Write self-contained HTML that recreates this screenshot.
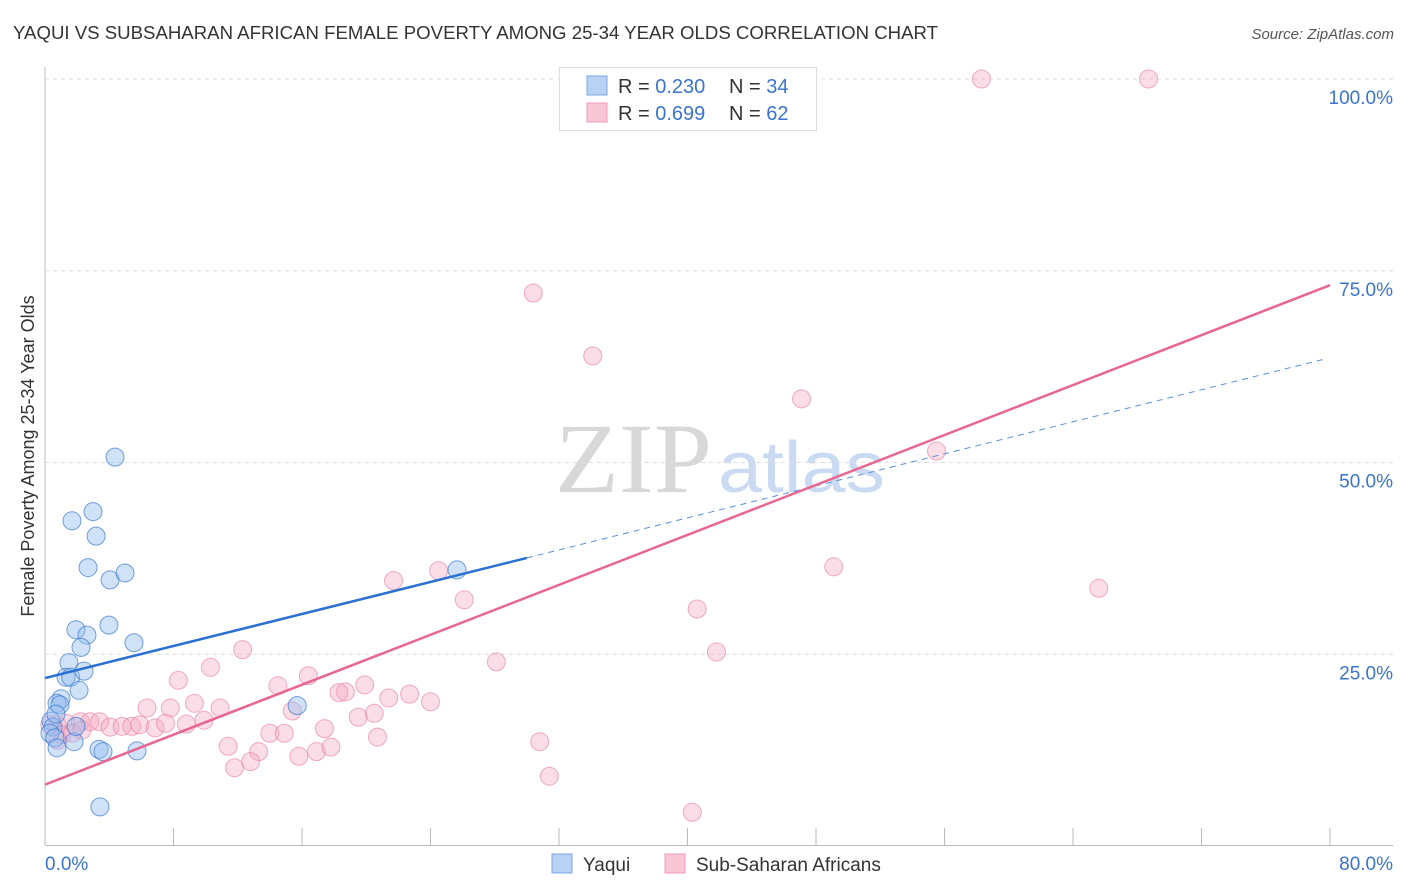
<!DOCTYPE html>
<html><head><meta charset="utf-8"><style>
body{margin:0;background:#fff;font-family:"Liberation Sans",sans-serif;}
#wrap{position:relative;width:1406px;height:892px;overflow:hidden;}
svg text{font-family:"Liberation Sans",sans-serif;}
</style></head><body>
<div id="wrap">
<svg id="chart" width="1406" height="892">
<text x="13" y="39" font-size="18" fill="#333" textLength="925" lengthAdjust="spacingAndGlyphs">YAQUI VS SUBSAHARAN AFRICAN FEMALE POVERTY AMONG 25-34 YEAR OLDS CORRELATION CHART</text>
<text x="1394" y="39" font-size="15" fill="#555" text-anchor="end" font-style="italic">Source: ZipAtlas.com</text>
<text x="555" y="492" font-size="100" fill="#d8d8d8" textLength="157" lengthAdjust="spacingAndGlyphs" style="font-family:'Liberation Serif',serif">ZIP</text>
<text x="718" y="492" font-size="72" fill="#c9daf2" textLength="167" lengthAdjust="spacingAndGlyphs">atlas</text>
<text transform="translate(34,456) rotate(-90)" font-size="18" fill="#333" text-anchor="middle">Female Poverty Among 25-34 Year Olds</text>
<g id="grid"></g><g id="marks"></g>
<g>
<rect x="559.5" y="67.5" width="257" height="63" fill="#fff" stroke="#ddd"/>
<rect x="587" y="76" width="20" height="19" fill="#b8d2f4" stroke="#7aa7e6"/>
<rect x="587" y="103" width="20" height="19" fill="#f9c6d6" stroke="#ee9ab6"/>
<text x="618" y="93" font-size="20" fill="#333">R = <tspan fill="#3a74d0">0.230</tspan></text>
<text x="729" y="93" font-size="20" fill="#333">N = <tspan fill="#3a74d0">34</tspan></text>
<text x="618" y="120" font-size="20" fill="#333">R = <tspan fill="#3a74d0">0.699</tspan></text>
<text x="729" y="120" font-size="20" fill="#333">N = <tspan fill="#3a74d0">62</tspan></text>
</g>
<g>
<rect x="552" y="854" width="20" height="19" fill="#b8d2f4" stroke="#7aa7e6"/>
<text x="583" y="871" font-size="19" fill="#333">Yaqui</text>
<rect x="665" y="854" width="20" height="19" fill="#f9c6d6" stroke="#ee9ab6"/>
<text x="696" y="871" font-size="19" fill="#333">Sub-Saharan Africans</text>
</g>
</svg>
</div>
<script>
const yTicks=[25,50,75,100];
const yTickLabels=["25.0%","50.0%","75.0%","100.0%"];
const xTickCount=10;
const yaquiX=[4.36,1.68,2.99,3.18,2.68,4.05,4.98,1.93,2.61,3.98,5.54,2.24,1.49,1.31,1.6,2.43,2.12,1.0,0.75,0.93,0.37,0.5,0.31,0.62,0.75,1.81,1.93,3.36,3.61,5.73,3.42,15.7,25.65,0.68];
const yaquiY=[50.7,42.4,43.6,40.4,36.3,34.7,35.6,28.2,27.5,28.8,26.5,25.9,23.9,22.0,22.0,22.8,20.3,19.2,18.6,18.4,16.3,15.5,14.7,14.1,12.8,13.6,15.6,12.6,12.3,12.4,5.1,18.3,36.0,17.2];
const ssaX=[58.3,68.7,30.4,34.1,47.1,55.5,49.1,65.6,24.5,21.7,26.1,40.6,41.8,28.1,12.3,10.3,16.4,8.3,14.5,9.3,6.35,7.8,10.9,9.9,15.4,18.7,19.9,18.3,21.4,22.7,24.0,19.5,20.5,14.0,14.9,17.4,20.7,11.4,13.3,12.8,11.8,15.8,16.9,17.8,30.8,31.4,40.3,0.75,1.3,2.2,2.8,3.4,4.05,4.8,5.4,5.9,6.85,7.5,8.8,1.06,1.7,2.3,0.3,0.8];
const ssaY=[100,100,72.1,63.9,58.3,51.5,36.4,33.6,35.9,34.6,32.1,30.9,25.3,24.0,25.6,23.3,22.2,21.6,20.9,18.6,18.0,18.0,18.0,16.4,17.6,20.1,21.0,20.0,19.3,19.8,18.8,16.8,17.3,14.7,14.7,15.3,14.2,13.0,12.3,11.0,10.2,11.7,12.3,12.9,13.6,9.1,4.4,15.8,16.0,16.2,16.2,16.2,15.5,15.6,15.6,15.8,15.4,16.0,15.9,14.5,14.7,15.1,15.8,13.8];
const yaquiLine=[21.9,0.522];
const ssaLine=[8.0,0.814];

const NS="http://www.w3.org/2000/svg";
const X=v=>45+v/80*1285;
const Y=v=>846-v/100*767;
function mk(tag,attrs,parent){const e=document.createElementNS(NS,tag);for(const k in attrs)e.setAttribute(k,attrs[k]);parent.appendChild(e);return e;}
const grid=document.getElementById('grid'),marks=document.getElementById('marks');
mk('line',{x1:45,y1:67,x2:45,y2:845,stroke:'#bbb'},grid);
mk('line',{x1:45,y1:845.5,x2:1393,y2:845.5,stroke:'#bbb'},grid);
yTicks.forEach((t,i)=>{
  const l=mk('line',{x1:45,x2:1393,y1:Y(t),y2:Y(t),stroke:'#ddd','stroke-dasharray':'4,4'},grid);
  
  
  const tx=mk('text',{x:1393,y:Y(t)+25,'font-size':19,fill:'#3a74d0','text-anchor':'end'},grid);
  tx.textContent=yTickLabels[i];
  
  
});
for(let i=0;i<=xTickCount;i++){
  const x=X(i*8);
  const l=mk('line',{x1:x,x2:x,y1:828,y2:845,stroke:'#bbb'},grid);
  
  
}
const xl0=mk('text',{x:45,y:870,'font-size':19,fill:'#3a74d0'},grid);xl0.textContent='0.0%';


const xl1=mk('text',{x:1393,y:870,'font-size':19,fill:'#3a74d0','text-anchor':'end'},grid);xl1.textContent='80.0%';



ssaX.forEach((v,i)=>{
  const c=mk('circle',{cx:X(v),cy:Y(ssaY[i]),r:9,fill:'rgba(246,170,196,0.4)',stroke:'rgba(232,120,158,0.6)','stroke-width':1},marks);
  
  
});
yaquiX.forEach((v,i)=>{
  const c=mk('circle',{cx:X(v),cy:Y(yaquiY[i]),r:9,fill:'rgba(150,190,240,0.45)',stroke:'rgba(60,120,210,0.7)','stroke-width':1},marks);
  
  
});
const bl=mk('line',{x1:X(0),y1:Y(yaquiLine[0]),x2:X(30),y2:Y(yaquiLine[0]+30*yaquiLine[1]),stroke:'#2a6fd6','stroke-width':2.5},marks);


const bd=mk('line',{x1:X(30),y1:Y(yaquiLine[0]+30*yaquiLine[1]),x2:X(79.7),y2:Y(yaquiLine[0]+79.7*yaquiLine[1]),stroke:'#5b8fdc','stroke-width':1,'stroke-dasharray':'6,5'},marks);


const pl=mk('line',{x1:X(0),y1:Y(ssaLine[0]),x2:X(80),y2:Y(ssaLine[0]+80*ssaLine[1]),stroke:'#e8668f','stroke-width':2.5},marks);


</script>
</body></html>
